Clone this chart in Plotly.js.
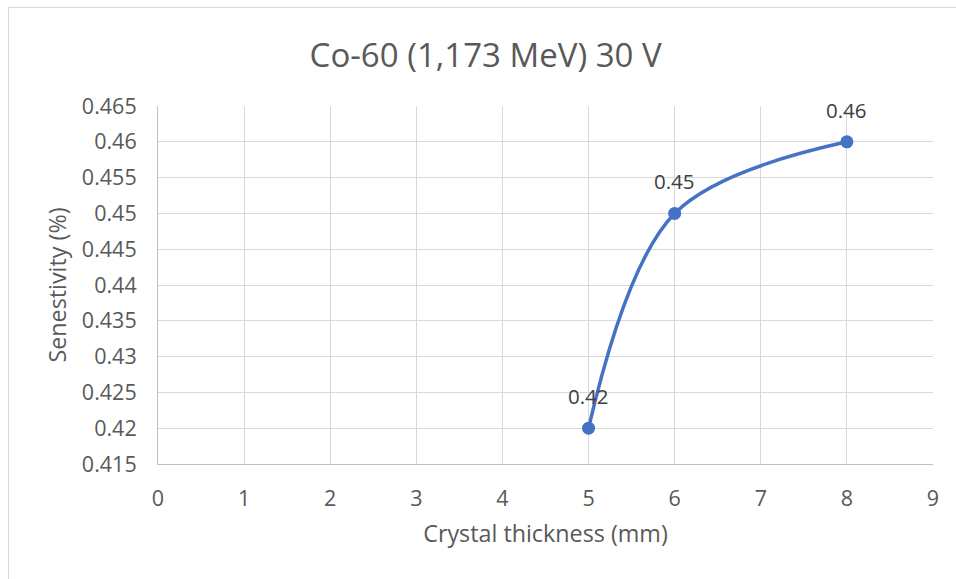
<!DOCTYPE html>
<html>
<head>
<meta charset="utf-8">
<script src="https://cdn.plot.ly/plotly-3.0.1.min.js"></script>
<style>
  html, body { margin: 0; padding: 0; background: #fff; }
  #frame { position: absolute; left: 8px; top: 7px; width: 1000px; height: 700px; border: 1px solid #d9d9d9; box-sizing: border-box; }
  #chart { position: absolute; left: 0; top: 0; width: 956px; height: 579px; }
</style>
</head>
<body>
<div id="frame"></div>
<div id="chart"></div>
<script>
// Crystal thickness (mm) vs. sensitivity (%)
const thickness = [5, 6, 8];
const sensitivity = [0.42, 0.45, 0.46];
const pointLabels = ['0.42', '0.45', '0.46'];
const xTicks = [0, 1, 2, 3, 4, 5, 6, 7, 8, 9];
const yTicks = [0.415, 0.42, 0.425, 0.43, 0.435, 0.44, 0.445, 0.45, 0.455, 0.46, 0.465];
const yTickText = ['0.415', '0.42', '0.425', '0.43', '0.435', '0.44', '0.445', '0.45', '0.455', '0.46', '0.465'];

const font = '"Open Sans", sans-serif';
const grey = '#595959';

const trace = {
  x: thickness,
  y: sensitivity,
  type: 'scatter',
  mode: 'lines+markers',
  line: { color: '#4472C4', width: 3.5, shape: 'spline', smoothing: 1 },
  marker: { color: '#4472C4', size: 13 },
  cliponaxis: false,
  hoverinfo: 'x+y'
};

// value labels sit above each point
const labels = thickness.map((x, i) => ({
  x: x,
  y: sensitivity[i],
  xref: 'x',
  yref: 'y',
  text: pointLabels[i],
  showarrow: false,
  yshift: 32,
  font: { family: font, size: 20.5, color: '#404040' }
}));

const layout = {
  width: 956,
  height: 579,
  paper_bgcolor: 'rgba(0,0,0,0)',
  plot_bgcolor: '#fff',
  margin: { l: 158, r: 23, t: 106, b: 115 },
  showlegend: false,
  annotations: labels,
  title: {
    text: 'Co-60 (1,173 MeV) 30 V',
    font: { family: font, size: 33, color: grey },
    x: 0.508, xanchor: 'center',
    y: 0.905, yanchor: 'middle'
  },
  xaxis: {
    range: [0, 9],
    tickvals: xTicks,
    ticktext: xTicks.map(String),
    showgrid: true,
    gridcolor: '#d9d9d9',
    gridwidth: 1,
    showline: true,
    linecolor: '#bfbfbf',
    linewidth: 1,
    zeroline: false,
    ticks: '',
    ticklabelstandoff: 15,
    tickfont: { family: font, size: 21.5, color: grey },
    title: { text: 'Crystal thickness (mm)', font: { family: font, size: 23.3, color: grey }, standoff: 14 }
  },
  yaxis: {
    range: [0.415, 0.465],
    tickvals: yTicks,
    ticktext: yTickText,
    showgrid: true,
    gridcolor: '#d9d9d9',
    gridwidth: 1,
    showline: true,
    linecolor: '#bfbfbf',
    linewidth: 1,
    zeroline: false,
    ticks: '',
    ticklabelstandoff: 16,
    tickfont: { family: font, size: 21.5, color: grey },
    title: { text: 'Senestivity (%)', font: { family: font, size: 23.3, color: grey }, standoff: 8 }
  }
};

Plotly.newPlot('chart', [trace], layout, { displayModeBar: false, staticPlot: true });
</script>
</body>
</html>
